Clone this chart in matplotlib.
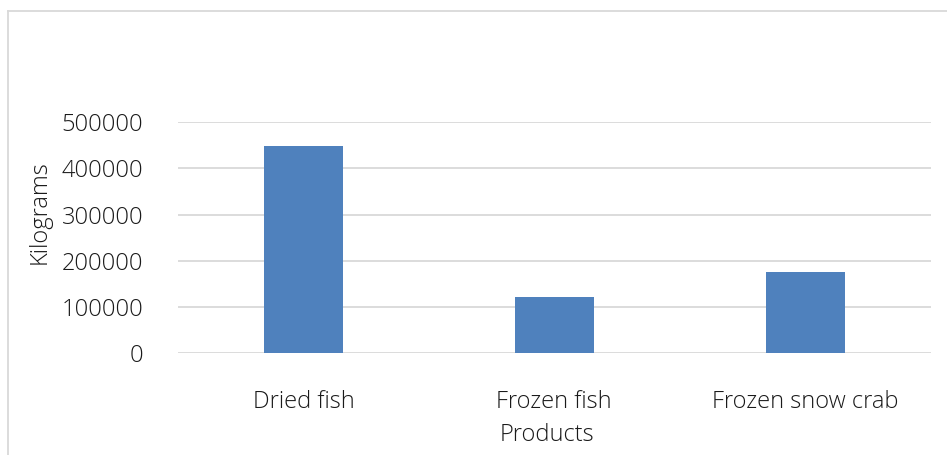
import matplotlib
matplotlib.use("Agg")
import matplotlib.pyplot as plt
from matplotlib.lines import Line2D

plt.rcParams['font.family'] = ['Open Sans', 'DejaVu Sans']
plt.rcParams['font.weight'] = 'light'
plt.rcParams['axes.labelweight'] = 'light'

products = ['Dried fish', 'Frozen fish', 'Frozen snow crab']
kilograms = [448000, 123000, 176500]
y_ticks = [0, 100000, 200000, 300000, 400000, 500000]

bar_color = '#4F81BD'
grid_color = '#D9D9D9'
text_color = '#1A1A1A'

fig = plt.figure(figsize=(9.47, 4.55), dpi=100)
ax = fig.add_axes([0.188, 0.2231, 0.7946, 0.5088])

x = range(len(products))
ax.bar(x, kilograms, width=0.315, color=bar_color, zorder=3)

ax.set_xlim(-0.5, len(products) - 0.5)
ax.set_ylim(0, 500000)
ax.set_yticks(y_ticks)
ax.set_yticklabels([str(v) for v in y_ticks])
ax.set_xticks(list(x))
ax.set_xticklabels(products)

for v in y_ticks:
    ax.axhline(v, color=grid_color, lw=1.3, zorder=1)

for s in ax.spines.values():
    s.set_visible(False)
ax.tick_params(axis='both', length=0, labelsize=17, labelcolor=text_color)
ax.tick_params(axis='y', pad=25)
ax.tick_params(axis='x', pad=26)

ax.set_ylabel('Kilograms', fontsize=17, color=text_color, fontweight='light')
ax.yaxis.set_label_coords(-0.168, 0.61)
ax.set_xlabel('Products', fontsize=17, color=text_color, fontweight='light')
ax.xaxis.set_label_coords(0.49, -0.30)

# chart area border (left and top edges visible)
fig.add_artist(Line2D([8 / 947, 8 / 947], [0, 1 - 11 / 455], transform=fig.transFigure, color=grid_color, lw=1.3))
fig.add_artist(Line2D([8 / 947, 1], [1 - 11 / 455, 1 - 11 / 455], transform=fig.transFigure, color=grid_color, lw=1.3))

fig.savefig('out.png', dpi=100)
